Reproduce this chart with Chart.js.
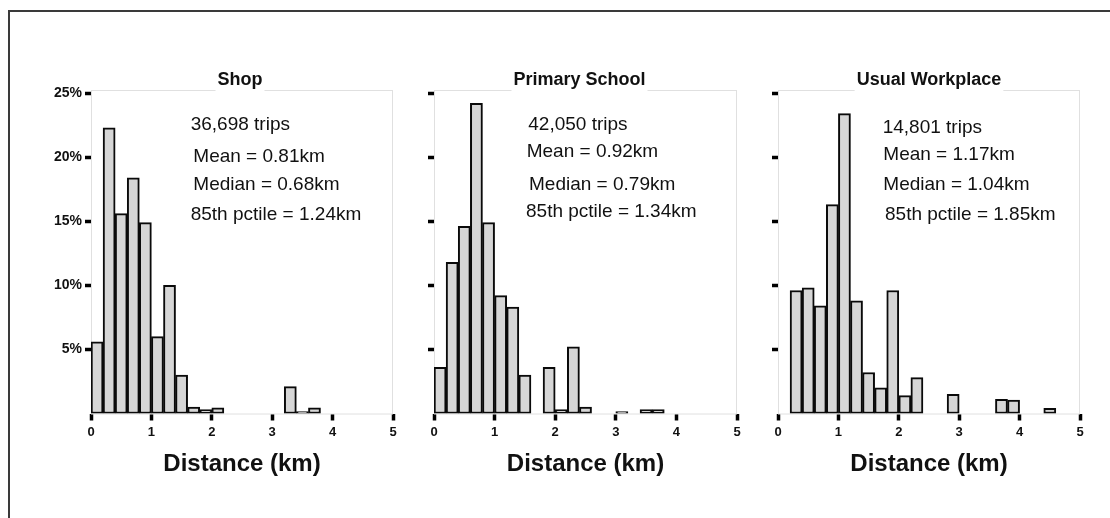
<!DOCTYPE html>
<html>
<head>
<meta charset="utf-8">
<script src="https://cdn.jsdelivr.net/npm/chart.js@4.4.1/dist/chart.umd.min.js"></script>
<style>
  html, body { margin: 0; padding: 0; background: #fff; }
  body { width: 1110px; height: 518px; position: relative; overflow: hidden; }
  .frame { position: absolute; left: 8px; top: 10px; width: 1130px; height: 530px;
           border-left: 2px solid #3a3a3a; border-top: 2px solid #3a3a3a; }
  canvas { position: absolute; top: 40px; }
</style>
</head>
<body>
<div class="frame"></div>
<canvas id="shopChart" width="367" height="445" style="left:41px"></canvas>
<canvas id="schoolChart" width="368" height="445" style="left:384px"></canvas>
<canvas id="workChart" width="367" height="445" style="left:728px"></canvas>
<script>
// 0.2 km distance bins (centres), share of trips in %
const binCentres = [0.1, 0.3, 0.5, 0.7, 0.9, 1.1, 1.3, 1.5, 1.7, 1.9,
                    2.1, 2.3, 2.5, 2.7, 2.9, 3.1, 3.3, 3.5, 3.7, 3.9,
                    4.1, 4.3, 4.5, 4.7, 4.9];
const shopShare   = [5.6, 22.3, 15.6, 18.4, 14.9, 6.0, 10.0, 3.0, 0.5, 0.3,
                     0.45, 0, 0, 0, 0, 0, 2.1, 0.15, 0.45, 0,
                     0, 0, 0, 0, 0];
const schoolShare = [3.6, 11.8, 14.6, 24.2, 14.9, 9.2, 8.3, 3.0, 0, 3.6,
                     0.3, 5.2, 0.5, 0, 0, 0.15, 0, 0.3, 0.3, 0,
                     0, 0, 0, 0, 0];
const workShare   = [0, 9.6, 9.8, 8.4, 16.3, 23.4, 8.8, 3.2, 2.0, 9.6,
                     1.4, 2.8, 0, 0, 1.5, 0, 0, 0, 1.1, 1.05,
                     0, 0, 0.4, 0, 0];
const yTicks = [5, 10, 15, 20, 25];

const shopNotes   = ['36,698 trips', 'Mean = 0.81km', 'Median = 0.68km', '85th pctile = 1.24km'];
const schoolNotes = ['42,050 trips', 'Mean = 0.92km', 'Median = 0.79km', '85th pctile = 1.34km'];
const workNotes   = ['14,801 trips', 'Mean = 1.17km', 'Median = 1.04km', '85th pctile = 1.85km'];

const FONT = '"Liberation Sans", Arial, sans-serif';
Chart.defaults.color = '#111';
Chart.defaults.font.family = FONT;

function makePanel(id, values, title, notes, layout) {
    const decor = {
        id: 'decor',
        beforeDatasetsDraw(chart) {
            const { ctx, chartArea: a } = chart;
            ctx.save();
            ctx.strokeStyle = '#e0e0e0';
            ctx.lineWidth = 1;
            ctx.strokeRect(a.left + 0.5, a.top + 0.5, a.right - a.left - 1, a.bottom - a.top);
            ctx.restore();
        },
        afterDraw(chart) {
            const { ctx, chartArea: a } = chart;
            ctx.save();
            // panel title, sitting on the top edge of the plot
            ctx.font = 'bold 18px ' + FONT;
            const tw = ctx.measureText(title).width;
            const cx = (a.left + a.right) / 2 + layout.titleShift;
            ctx.fillStyle = '#fff';
            ctx.fillRect(cx - tw / 2 - 2, a.top - 3, tw + 4, 4);
            ctx.fillStyle = '#111';
            ctx.textAlign = 'center';
            ctx.textBaseline = 'alphabetic';
            ctx.fillText(title, cx, a.top - 5.5);
            // trip stats
            ctx.font = '19px ' + FONT;
            ctx.textAlign = 'left';
            notes.forEach((t, i) => ctx.fillText(t, a.left + layout.noteX[i], a.top + layout.noteY[i]));
            ctx.restore();
        }
    };

    return new Chart(document.getElementById(id), {
        type: 'bar',
        data: {
            labels: binCentres,
            datasets: [{
                data: values.map(v => v || null),
                backgroundColor: '#d6d6d6',
                borderColor: '#0a0a0a',
                borderWidth: 2,
                borderSkipped: false,
                barPercentage: 1,
                categoryPercentage: 1
            }]
        },
        options: {
            responsive: false,
            animation: false,
            layout: { padding: { top: 50, right: 15, left: 0, bottom: 0 } },
            plugins: { legend: { display: false }, tooltip: { enabled: false } },
            scales: {
                x: {
                    type: 'linear', min: 0, max: 5, offset: false,
                    afterFit: s => { s.height = 71.5; },
                    border: { display: false },
                    grid: { offset: false, drawOnChartArea: false, tickColor: '#000', tickWidth: 3.5, tickLength: 7 },
                    ticks: { stepSize: 1, padding: 4, color: '#111', font: { size: 13, weight: 'bold' } },
                    title: {
                        display: true, text: 'Distance (km)', color: '#111',
                        font: { size: 24, weight: 'bold', lineHeight: 1 },
                        padding: { top: 0, bottom: 8.5 }
                    }
                },
                y: {
                    min: 0, max: 25.25,
                    afterFit: s => { s.width = 50; },
                    afterBuildTicks: s => { s.ticks = s.ticks.filter(t => yTicks.includes(t.value)); },
                    border: { display: false },
                    grid: { drawOnChartArea: false, tickColor: '#000', tickWidth: 3.5, tickLength: 6 },
                    ticks: {
                        stepSize: 5, includeBounds: false, padding: 3, color: '#111',
                        font: { size: 14, weight: 'bold' },
                        callback: v => layout.yLabels ? v + '%' : ''
                    }
                }
            }
        },
        plugins: [decor]
    });
}

makePanel('shopChart', shopShare, 'Shop', shopNotes,
    { yLabels: true, titleShift: -2, noteX: [99.7, 102.3, 102.3, 99.7], noteY: [40, 71.5, 100, 130] });
makePanel('schoolChart', schoolShare, 'Primary School', schoolNotes,
    { yLabels: false, titleShift: -6, noteX: [94.3, 92.7, 95, 92], noteY: [40, 67.3, 100, 127.3] });
makePanel('workChart', workShare, 'Usual Workplace', workNotes,
    { yLabels: false, titleShift: 0, noteX: [104.7, 105.3, 105.3, 107], noteY: [43.3, 70, 100, 130] });
</script>
</body>
</html>
